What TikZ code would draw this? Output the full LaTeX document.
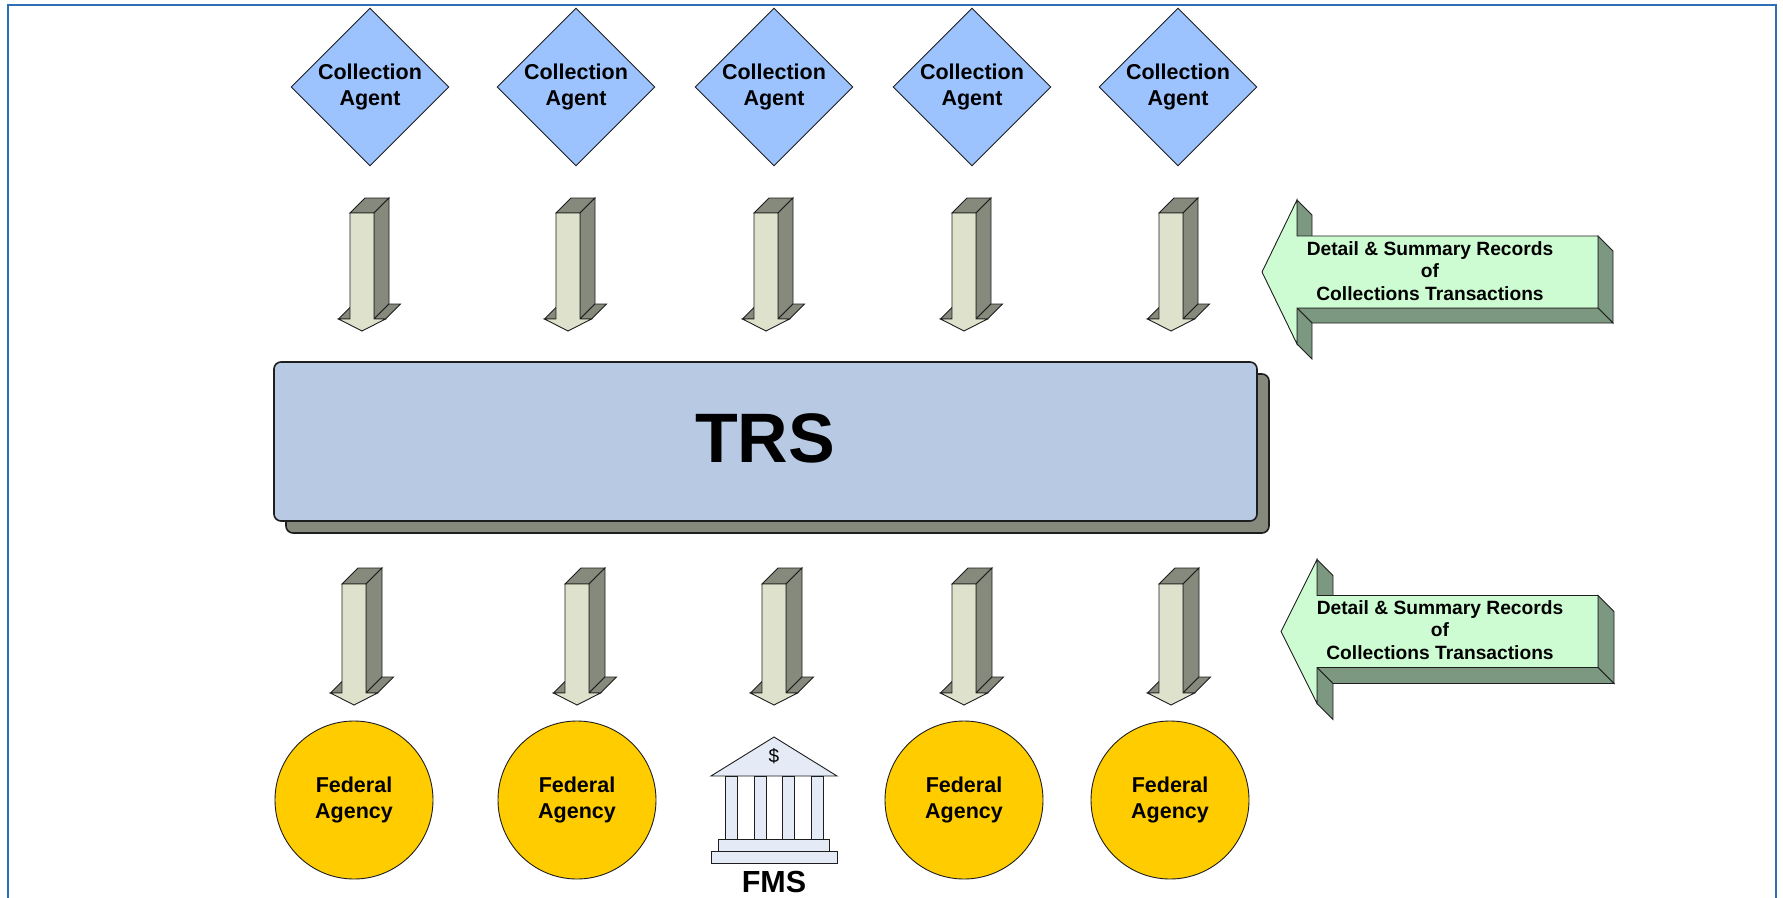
\documentclass[tikz,border=0pt]{standalone}
\usepackage{fontspec}
\setmainfont{Liberation Sans}
\usetikzlibrary{shapes.geometric}
\definecolor{framecol}{RGB}{46,112,184}
\definecolor{diafill}{RGB}{157,195,255}
\definecolor{arrfront}{RGB}{222,226,204}
\definecolor{arrdark}{RGB}{134,138,124}
\definecolor{trsfill}{RGB}{184,201,227}
\definecolor{agencyfill}{RGB}{255,204,0}
\definecolor{recfill}{RGB}{206,252,210}
\definecolor{recdark}{RGB}{124,152,128}
\definecolor{bankfill}{RGB}{228,235,247}
\definecolor{edgecol}{RGB}{30,30,30}
\tikzset{
  outl/.style={draw=edgecol, line width=0.9pt},
  agentnode/.style={diamond, aspect=1, minimum width=158pt, minimum height=158pt,
    inner sep=0pt, fill=diafill, outl, align=center,
    font=\bfseries\fontsize{21.5}{26}\selectfont},
  agencynode/.style={circle, minimum size=158pt, inner sep=0pt, fill=agencyfill,
    outl, align=center, font=\bfseries\fontsize{21.5}{26}\selectfont},
  arrdk/.style={fill=arrdark, outl},
  arrfr/.style={fill=arrfront, outl},
  recdk/.style={fill=recdark, outl},
  recfr/.style={fill=recfill, outl},
  rectext/.style={align=center, inner sep=0pt, font=\bfseries\fontsize{19.2}{22.5}\selectfont},
  bankpart/.style={fill=bankfill, outl},
}
% small 3D arrow pointing down: #1 name, #2 centre x, #3 top y, #4 shaft length, #5 depth
\newcommand\blockarrow[5]{%
  \begin{scope}[shift={(#2,#3)}]
    \coordinate (#1) at (0,0);
    \filldraw[arrdk] (-12,0) -- (12,0) -- (12+#5,-#5) -- (-12+#5,-#5) -- cycle;
    \filldraw[arrdk] (12,0) -- (12+#5,-#5) -- (12+#5,#4-#5) -- (12,#4) -- cycle;
    \filldraw[arrdk] (12,#4) -- (23.5,#4) -- (23.5+#5,#4-#5) -- (12+#5,#4-#5) -- cycle;
    \filldraw[arrdk] (-23.5,#4) -- (-12,#4) -- (-12+#5,#4-#5) -- (-23.5+#5,#4-#5) -- cycle;
    \filldraw[arrfr] (-12,0) -- (12,0) -- (12,#4) -- (23.5,#4) -- (0,#4+12)
      -- (-23.5,#4) -- (-12,#4) -- cycle;
  \end{scope}}
% big 3D arrow pointing left: #1 name, #2 tip x, #3 centre y, #4 head x, #5 right x, #6 depth
\newcommand\recarrow[6]{%
  \begin{scope}[shift={(0,#3)}]
    \coordinate (#1) at (#2,0);
    \filldraw[recdk] (#5,-36) -- (#5+#6,-36+#6) -- (#5+#6,36+#6) -- (#5,36) -- cycle;
    \filldraw[recdk] (#4,36) -- (#5,36) -- (#5+#6,36+#6) -- (#4+#6,36+#6) -- cycle;
    \filldraw[recdk] (#4,-72) -- (#4+#6,-72+#6) -- (#4+#6,-36+#6) -- (#4,-36) -- cycle;
    \filldraw[recdk] (#4,36) -- (#4+#6,36+#6) -- (#4+#6,72+#6) -- (#4,72) -- cycle;
    \filldraw[recfr] (#2,0) -- (#4,-72) -- (#4,-36) -- (#5,-36) -- (#5,36) -- (#4,36)
      -- (#4,72) -- cycle;
  \end{scope}}
\begin{document}
\begin{tikzpicture}[x=1pt,y=-1pt]
  \useasboundingbox (0,0) rectangle (1783,897);
  \clip (0,0) rectangle (1783,897);
  \fill[white] (0,0) rectangle (1783,897);
  \draw[framecol, line width=2.6pt] (8,5) rectangle (1776,930);

  % collection agents
  \node[agentnode] (ca1) at (370,87) {Collection\\Agent};
  \node[agentnode] (ca2) at (576,87) {Collection\\Agent};
  \node[agentnode] (ca3) at (774,87) {Collection\\Agent};
  \node[agentnode] (ca4) at (972,87) {Collection\\Agent};
  \node[agentnode] (ca5) at (1178,87) {Collection\\Agent};

  % upper arrows
  \blockarrow{ua1}{362}{213}{106}{15}
  \blockarrow{ua2}{568}{213}{106}{15}
  \blockarrow{ua3}{766}{213}{106}{15}
  \blockarrow{ua4}{964}{213}{106}{15}
  \blockarrow{ua5}{1171}{213}{106}{15}

  % upper record arrow
  \recarrow{ra1}{1262}{272}{1297}{1598}{15}
  \node[rectext] (rt1) at (1430,271) {Detail \& Summary Records\\of\\Collections Transactions};

  % TRS
  \filldraw[fill=arrdark, draw=edgecol, line width=1.6pt, rounded corners=7pt]
    (286,374) rectangle (1269,533);
  \node[fill=trsfill, draw=edgecol, line width=1.6pt, rounded corners=7pt,
    minimum width=983pt, minimum height=159pt, inner sep=0pt] (trs) at (765.5,441.5) {};
  \node[font=\bfseries\fontsize{70}{80}\selectfont, inner sep=0pt] (trslabel) at (765,438) {TRS};

  % lower arrows
  \blockarrow{la1}{354}{584}{109}{16}
  \blockarrow{la2}{577}{584}{109}{16}
  \blockarrow{la3}{774}{584}{109}{16}
  \blockarrow{la4}{964}{584}{109}{16}
  \blockarrow{la5}{1171}{584}{109}{16}

  % lower record arrow
  \recarrow{ra2}{1281}{631.5}{1317}{1598}{16}
  \node[rectext] (rt2) at (1440,630) {Detail \& Summary Records\\of\\Collections Transactions};

  % federal agencies
  \node[agencynode] (fa1) at (354,800) {Federal\\Agency};
  \node[agencynode] (fa2) at (577,800) {Federal\\Agency};
  \node[agencynode] (fa4) at (964,800) {Federal\\Agency};
  \node[agencynode] (fa5) at (1170,800) {Federal\\Agency};

  % FMS building
  \filldraw[bankpart] (711,776) -- (774,737) -- (837,776) -- cycle;
  \filldraw[bankpart] (725,776) rectangle (737,839);
  \filldraw[bankpart] (754,776) rectangle (766,839);
  \filldraw[bankpart] (782,776) rectangle (794,839);
  \filldraw[bankpart] (811,776) rectangle (823,839);
  \filldraw[bankpart] (718,839) rectangle (829,851);
  \filldraw[bankpart] (711,851) rectangle (837,863);
  \node[font=\fontsize{19}{22}\selectfont, inner sep=0pt] (dollar) at (774,756) {\$};
  \node[font=\bfseries\fontsize{30.5}{34}\selectfont, inner sep=0pt] (fms) at (774,882) {FMS};
\end{tikzpicture}
\end{document}
